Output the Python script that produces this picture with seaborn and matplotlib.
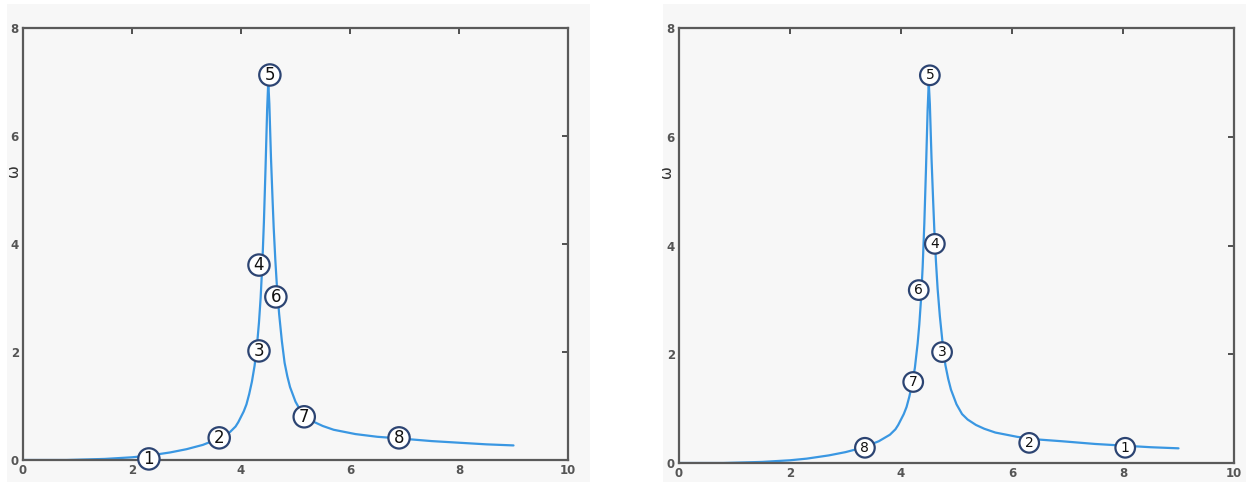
import matplotlib
matplotlib.use("Agg")
import matplotlib.pyplot as plt
from matplotlib.patches import Rectangle
import seaborn as sns

# Response curve (frequency vs amplitude), shared by both panels
freq = [0.0, 0.8, 1.5, 2.0, 2.3, 2.7, 3.0, 3.3, 3.6, 3.8, 3.9, 3.95, 4.0,
        4.05, 4.1, 4.15, 4.2, 4.25, 4.3, 4.33, 4.36, 4.39, 4.42, 4.45, 4.48,
        4.5, 4.52, 4.55, 4.58, 4.6, 4.63, 4.66, 4.7, 4.75, 4.8, 4.85, 4.9,
        5.0, 5.1, 5.2, 5.35, 5.5, 5.7, 6.1, 6.5, 6.9, 7.5, 8.0, 8.5, 9.0]
amp = [0.0, 0.0, 0.02, 0.05, 0.08, 0.14, 0.2, 0.28, 0.4, 0.52, 0.62, 0.7,
       0.8, 0.9, 1.03, 1.22, 1.45, 1.75, 2.2, 2.55, 3.0, 3.6, 4.4, 5.4, 6.5,
       7.0, 6.6, 5.6, 4.8, 4.3, 3.7, 3.2, 2.7, 2.2, 1.8, 1.55, 1.35,
       1.08, 0.9, 0.8, 0.7, 0.63, 0.56, 0.48, 0.43, 0.4, 0.35, 0.32, 0.29, 0.27]

# Numbered markers: positions along the curve for each panel
labels = ["1", "2", "3", "4", "5", "6", "7", "8"]
left_mx = [2.31, 3.6, 4.33, 4.33, 4.53, 4.64, 5.16, 6.9]
left_my = [0.02, 0.41, 2.02, 3.61, 7.13, 3.02, 0.8, 0.41]
right_mx = [8.04, 6.31, 4.74, 4.61, 4.52, 4.32, 4.22, 3.35]
right_my = [0.28, 0.37, 2.04, 4.03, 7.13, 3.18, 1.49, 0.28]

xticks = [0, 2, 4, 6, 8, 10]
yticks = [0, 2, 4, 6, 8]

sns.set_theme(style="white")
plt.rcParams["font.family"] = ["DejaVu Sans"]

W, H = 1248, 487
fig = plt.figure(figsize=(W / 100, H / 100), dpi=100)
fig.patch.set_facecolor("white")

panel_bg = "#f7f7f7"
for x0, x1 in [(7, 590), (663, 1246)]:
    fig.patches.append(Rectangle((x0 / W, 1 - 482 / H), (x1 - x0) / W, 478 / H,
                                 transform=fig.transFigure, facecolor=panel_bg,
                                 edgecolor="none", zorder=-10))

line_color = "#3a97e2"
edge_color = "#2c4472"
axis_color = "#5a5a5a"


def draw_panel(rect, mx, my, fsize, pad, label_x):
    ax = fig.add_axes(rect)
    ax.set_zorder(2)
    ax.set_facecolor(panel_bg)
    sns.lineplot(x=freq, y=amp, ax=ax, color=line_color, linewidth=1.6,
                 sort=False, estimator=None)
    ax.set_xlim(0, 10)
    ax.set_ylim(0, 8)
    ax.set_xticks(xticks)
    ax.set_yticks(yticks)
    ax.set_xticklabels([str(t) for t in xticks])
    ax.set_yticklabels([str(t) for t in yticks])
    for s in ax.spines.values():
        s.set_visible(True)
        s.set_color(axis_color)
        s.set_linewidth(1.6)
    ax.tick_params(direction="in", length=4, width=1.2, color="#333333",
                   top=True, right=True, labelsize=8.5, labelcolor="#555555",
                   pad=3)
    for lab in ax.get_xticklabels() + ax.get_yticklabels():
        lab.set_fontweight("bold")
    ax.set_ylabel("ω", fontsize=11, color="#333333", rotation=90)
    ax.yaxis.set_label_coords(label_x, 0.67)
    ax.set_xlabel("")
    for t, x, y in zip(labels, mx, my):
        ax.text(x, y, t, ha="center", va="center", fontsize=fsize,
                color="#111111", zorder=5,
                bbox=dict(boxstyle=f"circle,pad={pad}", facecolor="white",
                          edgecolor=edge_color, linewidth=1.6))
    return ax


draw_panel([23 / W, 1 - 460 / H, 545 / W, 432 / H], left_mx, left_my,
           12, 0.1, -0.004)
draw_panel([679 / W, 1 - 463 / H, 555 / W, 435 / H], right_mx, right_my,
           10, 0.2, -0.009)

fig.savefig("out.png", dpi=100, facecolor=fig.get_facecolor())
